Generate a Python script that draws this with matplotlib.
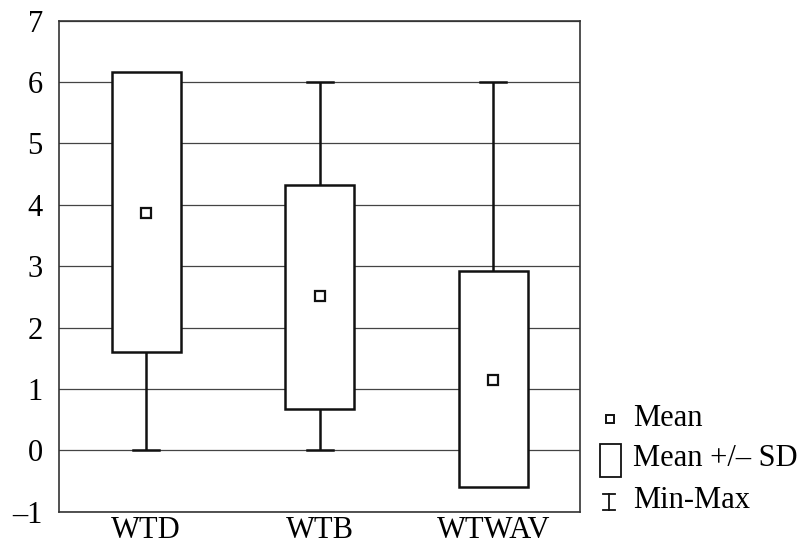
import matplotlib
matplotlib.use("Agg")
import matplotlib.pyplot as plt
from matplotlib.patches import Rectangle
from matplotlib.lines import Line2D

categories = ["WTD", "WTB", "WTWAV"]
means = [3.87, 2.51, 1.15]
sd_low = [1.60, 0.68, -0.60]
sd_high = [6.17, 4.33, 2.92]
mins = [0.0, 0.0, 0.0]
maxs = [6.0, 6.0, 6.0]
yticks = [-1, 0, 1, 2, 3, 4, 5, 6, 7]
ytick_labels = ["\u20131", "0", "1", "2", "3", "4", "5", "6", "7"]

plt.rcParams['font.family'] = ['Liberation Serif', 'DejaVu Serif']
FS = 22

fig = plt.figure(figsize=(8.06, 5.47), dpi=100)
ax = fig.add_axes([0.0738, 0.0645, 0.6458, 0.8977])

box_w = 0.4
cap_w = 0.15
ink = "#111111"
lw = 1.8

for i, c in enumerate(categories):
    # whisker
    ax.plot([i, i], [mins[i], maxs[i]], color=ink, lw=lw, zorder=2, solid_capstyle='butt')
    ax.plot([i - cap_w / 2, i + cap_w / 2], [mins[i], mins[i]], color=ink, lw=lw, zorder=2)
    ax.plot([i - cap_w / 2, i + cap_w / 2], [maxs[i], maxs[i]], color=ink, lw=lw, zorder=2)
    # box
    ax.add_patch(Rectangle((i - box_w / 2, sd_low[i]), box_w, sd_high[i] - sd_low[i],
                           facecolor="white", edgecolor=ink, lw=lw, zorder=3))
    # mean
    ax.plot(i, means[i], marker='s', markersize=6.5, markerfacecolor='white',
            markeredgecolor=ink, markeredgewidth=1.6, zorder=4, linestyle='none')

ax.set_xlim(-0.5, 2.5)
ax.set_ylim(-1, 7)
ax.set_yticks(yticks)
ax.set_yticklabels(ytick_labels, fontsize=FS)
ax.set_xticks(range(len(categories)))
ax.set_xticklabels(categories, fontsize=FS)
ax.tick_params(axis='both', length=0)
ax.tick_params(axis='y', pad=12)
ax.tick_params(axis='x', pad=3)
ax.yaxis.grid(True, color="#444444", lw=0.9)
ax.set_axisbelow(True)
for s in ax.spines.values():
    s.set_color("#333333")
    s.set_linewidth(1.2)

# legend drawn in figure coordinates
W, H = 806, 547
def fx(px):
    return px / W
def fy(py):
    return 1 - py / H

fig.add_artist(Line2D([fx(610)], [fy(419)], marker='s', markersize=6, markerfacecolor='white',
                      markeredgecolor=ink, markeredgewidth=1.4, linestyle='none',
                      transform=fig.transFigure))
fig.text(fx(633), fy(418), "Mean", fontsize=FS, va='center', ha='left')

fig.add_artist(Rectangle((fx(600), fy(477)), fx(621) - fx(600), fy(444) - fy(477),
                         facecolor='white', edgecolor=ink, lw=1.3, transform=fig.transFigure))
fig.text(fx(633), fy(459), "Mean +/\u2013 SD", fontsize=FS, va='center', ha='left')

fig.add_artist(Line2D([fx(609), fx(609)], [fy(494), fy(510)], color=ink, lw=1.3,
                      transform=fig.transFigure))
fig.add_artist(Line2D([fx(603), fx(615)], [fy(494), fy(494)], color=ink, lw=1.3,
                      transform=fig.transFigure))
fig.add_artist(Line2D([fx(603), fx(615)], [fy(510), fy(510)], color=ink, lw=1.3,
                      transform=fig.transFigure))
fig.text(fx(633), fy(501), "Min-Max", fontsize=FS, va='center', ha='left')

fig.savefig("out.png", dpi=100)
